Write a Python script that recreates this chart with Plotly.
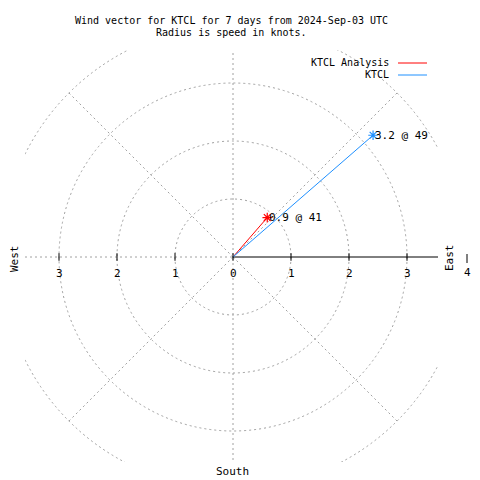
import math
import plotly.graph_objects as go

# ---- data ----
series_names = ["KTCL Analysis", "KTCL"]
speeds = [0.9, 3.2]          # knots
directions = [41, 49]        # degrees (compass)
series_colors = ["#ff0000", "#1e90ff"]
ring_values = [1, 2, 3, 4]
tick_values = [1, 2, 3]
title_lines = ["Wind vector for KTCL for 7 days from 2024-Sep-03 UTC",
               "Radius is speed in knots."]

FONT = "DejaVu Sans Mono"
FS = 10
GRID = "#a0a0a0"

OFF = 8  # page body margin
W, H = 480 - OFF, 480 - OFF
# plot area in page pixels: x 25..438, y 50..462
L, T = 25 - OFF, 50 - OFF
R = W - (438 - OFF)
B = H - (462 - OFF)
pw, ph = W - L - R, H - T - B
unit = 58.0
cx, cy = 233, 257
xr = [-(cx - 25) / unit, (438 - cx) / unit]
yr = [-(462 - cy) / unit, (cy - 50) / unit]

def px2paper(px, py):
    return (px - 25) / pw, (462 - py) / ph

fig = go.Figure()
shapes = []
annotations = []

dash = dict(color=GRID, width=1, dash="2px,3px")
rmax = max(ring_values)
for r in ring_values:
    shapes.append(dict(type="circle", xref="x", yref="y", x0=-r, y0=-r, x1=r, y1=r,
                       line=dash, layer="below"))
for a in [45, 135, 225, 315]:
    shapes.append(dict(type="line", xref="x", yref="y", x0=0, y0=0,
                       x1=rmax * math.cos(math.radians(a)), y1=rmax * math.sin(math.radians(a)),
                       line=dash, layer="below"))
shapes.append(dict(type="line", xref="x", yref="y", x0=0, y0=-6, x1=0, y1=6,
                   line=dash, layer="below"))
shapes.append(dict(type="line", xref="x", yref="y", x0=-6, y0=0, x1=0, y1=0,
                   line=dash, layer="below"))
shapes.append(dict(type="line", xref="x", yref="y", x0=0, y0=0, x1=6, y1=0,
                   line=dict(color="black", width=1), layer="below"))

for t in [0] + tick_values:
    for s in ([1, -1] if t else [1]):
        shapes.append(dict(type="line", xref="x", yref="y", x0=s * t, x1=s * t,
                           y0=-0.065, y1=0.065, line=dict(color="black", width=1)))
        annotations.append(dict(x=s * t, y=0, xref="x", yref="y", text=str(t),
                                showarrow=False, yshift=-16, xanchor="center",
                                font=dict(family=FONT, size=FS + 1, color="black")))

for name, spd, d, col in zip(series_names, speeds, directions, series_colors):
    ex = spd * math.sin(math.radians(d))
    ey = spd * math.cos(math.radians(d))
    fig.add_trace(go.Scatter(x=[0, ex], y=[0, ey], mode="lines", name=name,
                             line=dict(color=col, width=1), showlegend=False,
                             hoverinfo="skip"))
    fig.add_trace(go.Scatter(x=[ex], y=[ey], mode="markers", showlegend=False,
                             marker=dict(symbol="asterisk-open", size=8, color=col,
                                         line=dict(color=col, width=1.2)),
                             hoverinfo="skip"))
    annotations.append(dict(x=ex, y=ey, xref="x", yref="y",
                            text=f"{spd:.1f} @ {d}", showarrow=False,
                            xanchor="left", yanchor="middle", xshift=0,
                            font=dict(family=FONT, size=FS + 1, color="black")))

def ptext(px, py, text, angle=0, xanchor="center", size=FS):
    x, y = px2paper(px, py)
    annotations.append(dict(x=x, y=y, xref="paper", yref="paper", text=text,
                            showarrow=False, textangle=angle, xanchor=xanchor,
                            yanchor="middle", font=dict(family=FONT, size=size, color="black")))

ptext(14, 259, "West", angle=-90, size=FS + 1)
ptext(449, 258, "East", angle=-90, size=FS + 1)
ptext(467, 272, "4", size=FS + 1)
ptext(232, 471, "South", size=FS + 1)
ptext(231, 20, title_lines[0])
ptext(231, 33, title_lines[1])

# small vertical bar above the "4" label at the right edge
bx, by0 = px2paper(467, 263)
_, by1 = px2paper(467, 254)
shapes.append(dict(type="line", xref="paper", yref="paper", x0=bx, x1=bx, y0=by0, y1=by1,
                   line=dict(color="black", width=1)))

for i, (name, col) in enumerate(zip(series_names, series_colors)):
    ly = 63 + 12 * i
    ptext(391, ly, name, xanchor="right")
    x0, y0 = px2paper(398, ly)
    x1, _ = px2paper(427, ly)
    shapes.append(dict(type="line", xref="paper", yref="paper", x0=x0, x1=x1, y0=y0, y1=y0,
                       line=dict(color=col, width=1)))

fig.update_layout(
    width=W, height=H, margin=dict(l=L, r=R, t=T, b=B),
    paper_bgcolor="white", plot_bgcolor="white",
    xaxis=dict(range=xr, visible=False, fixedrange=True),
    yaxis=dict(range=yr, visible=False, fixedrange=True),
    shapes=shapes, annotations=annotations, showlegend=False,
)
fig.write_html("out.html")
